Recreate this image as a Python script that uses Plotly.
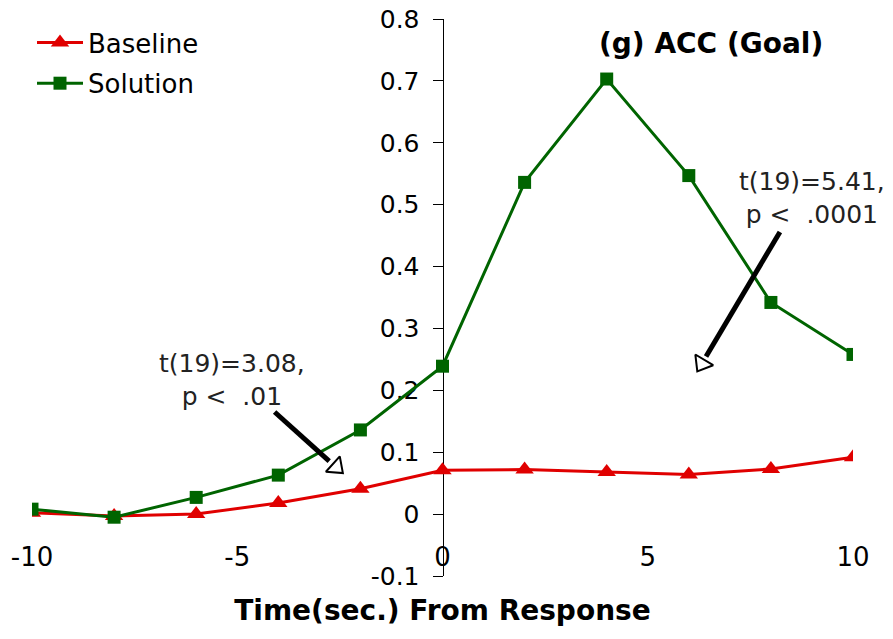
import plotly.graph_objects as go

# ---- data ----
time_sec = [-10, -8, -6, -4, -2, 0, 2, 4, 6, 8, 10]
baseline = [0.002, -0.003, 0.0, 0.018, 0.041, 0.071, 0.072, 0.068, 0.064, 0.073, 0.092]
solution = [0.008, -0.005, 0.027, 0.063, 0.136, 0.239, 0.536, 0.703, 0.547, 0.342, 0.258]

x_tickvals = [-10, -5, 0, 5, 10]
x_ticktext = ["-10", "-5", "0", "5", "10"]
y_tickvals = [-0.1, 0, 0.1, 0.2, 0.3, 0.4, 0.5, 0.6, 0.7, 0.8]
y_ticktext = ["-0.1", "0", "0.1", "0.2", "0.3", "0.4", "0.5", "0.6", "0.7", "0.8"]

RED = "#e00000"
GREEN = "#006400"
FONT = "DejaVu Sans"

fig = go.Figure()
fig.add_trace(go.Scatter(
    x=time_sec, y=baseline, name="Baseline", mode="lines+markers",
    line=dict(color=RED, width=3),
    marker=dict(symbol="triangle-up", size=16, color=RED),
    legendgroup="a",
))
fig.add_trace(go.Scatter(
    x=time_sec, y=solution, name="Solution", mode="lines+markers",
    line=dict(color=GREEN, width=3),
    marker=dict(symbol="square", size=13, color=GREEN),
    legendgroup="b",
))

# arrows: shaft as line shape, open head as rotated triangle marker
arrows = [
    dict(start=(-4.09, 0.165), base=(-2.76, 0.0857), head=(-2.59, 0.076), angle=132),
    dict(start=(8.22, 0.456), base=(6.42, 0.2545), head=(6.32, 0.243), angle=211),
]
for a in arrows:
    fig.add_shape(type="line", xref="x", yref="y",
                  x0=a["start"][0], y0=a["start"][1], x1=a["base"][0], y1=a["base"][1],
                  line=dict(color="black", width=5))
    fig.add_trace(go.Scatter(
        x=[a["head"][0]], y=[a["head"][1]], mode="markers", showlegend=False,
        hoverinfo="skip",
        marker=dict(symbol="triangle-up", size=18, angle=a["angle"], color="white",
                    line=dict(color="black", width=2)),
    ))

fig.add_annotation(x=-5.13, y=0.216, xref="x", yref="y", showarrow=False,
                   text="t(19)=3.08,<br>p <  .01", align="center",
                   font=dict(family=FONT, size=25, color="#222"))
fig.add_annotation(x=9.0, y=0.511, xref="x", yref="y", showarrow=False,
                   text="t(19)=5.41,<br>p <  .0001", align="center",
                   font=dict(family=FONT, size=25, color="#222"))
fig.add_annotation(x=6.54, y=0.76, xref="x", yref="y", showarrow=False,
                   text="<b>(g) ACC (Goal)</b>",
                   font=dict(family=FONT, size=28, color="black"))

fig.update_layout(
    width=885, height=631,
    margin=dict(l=24, r=40, t=11, b=63, autoexpand=False),
    plot_bgcolor="white", paper_bgcolor="white",
    font=dict(family=FONT, size=25, color="black"),
    showlegend=True,
    legend=dict(x=0.0, y=1.0, xanchor="left", yanchor="top",
                font=dict(family=FONT, size=26), bgcolor="rgba(0,0,0,0)",
                itemwidth=46, tracegroupgap=4, traceorder="grouped"),
    xaxis=dict(range=[-10, 10], anchor="free", position=0.066, automargin=False,
               tickvals=x_tickvals, ticktext=x_ticktext, ticks="",
               showline=False, showgrid=False, zeroline=False,
               ticklabeloverflow="allow",
               tickfont=dict(family=FONT, size=26),
               title=dict(text="<b>Time(sec.) From Response</b>",
                          font=dict(family=FONT, size=28), standoff=29)),
    xaxis2=dict(range=[-10, 10], overlaying="x", anchor="free", position=0.1 / 0.9,
                automargin=False,
                side="bottom", tickvals=x_tickvals, ticks="outside", ticklen=9,
                tickcolor="black", tickwidth=1, showticklabels=False,
                showline=True, linecolor="#808080", linewidth=2,
                showgrid=False, zeroline=False, layer="below traces"),
    yaxis=dict(range=[-0.1, 0.8], anchor="free", position=0.5, automargin=False,
               tickvals=y_tickvals, ticktext=y_ticktext,
               ticks="outside", ticklen=10, tickcolor="black", tickwidth=1,
               showline=True, linecolor="black", linewidth=1,
               showgrid=False, zeroline=False, layer="below traces",
               ticklabeloverflow="allow",
               ticklabelstandoff=8, tickfont=dict(family=FONT, size=25)),
)

fig.write_html("out.html")
